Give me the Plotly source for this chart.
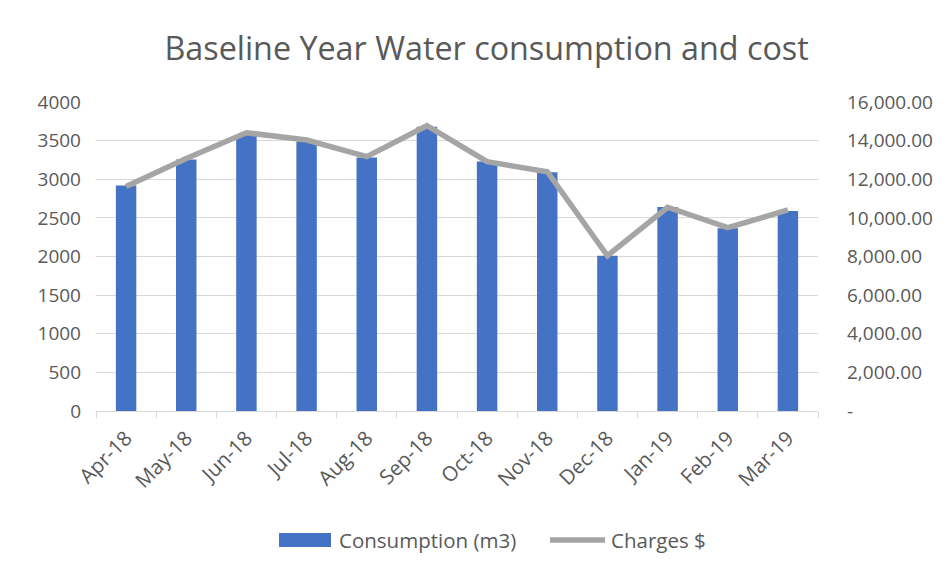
import plotly.graph_objects as go

months = ["Apr-18", "May-18", "Jun-18", "Jul-18", "Aug-18", "Sep-18",
          "Oct-18", "Nov-18", "Dec-18", "Jan-19", "Feb-19", "Mar-19"]
consumption = [2920, 3255, 3575, 3490, 3280, 3680, 3230, 3090, 2010, 2640, 2365, 2590]
charges = [11620, 13080, 14410, 14030, 13170, 14770, 12910, 12390, 8040, 10550, 9490, 10410]

left_ticks = [0, 500, 1000, 1500, 2000, 2500, 3000, 3500, 4000]
right_ticks = [0, 2000, 4000, 6000, 8000, 10000, 12000, 14000, 16000]
right_text = ["-", "2,000.00", "4,000.00", "6,000.00", "8,000.00",
              "10,000.00", "12,000.00", "14,000.00", "16,000.00"]

FONT = "Open Sans"
GREY = "#595959"
BLUE = "#4472c4"
LINEGREY = "#a5a5a5"

fig = go.Figure()
fig.add_trace(go.Bar(x=months, y=consumption, name="Consumption (m3)",
                     marker=dict(color=BLUE, line=dict(width=0)), yaxis="y",
                     showlegend=False))
fig.add_trace(go.Scatter(x=months, y=charges, name="Charges $", mode="lines",
                         line=dict(color=LINEGREY, width=5.5), yaxis="y2",
                         showlegend=False))

# custom legend (swatches in paper coordinates)
fig.add_shape(type="rect", xref="paper", yref="paper", x0=0.2535, x1=0.3255,
              y0=-0.4401, y1=-0.3948, fillcolor=BLUE, line=dict(width=0))
fig.add_shape(type="line", xref="paper", yref="paper", x0=0.6288, x1=0.7050,
              y0=-0.4175, y1=-0.4175, line=dict(color=LINEGREY, width=5.5))
fig.add_annotation(text="Consumption (m3)", xref="paper", yref="paper", x=0.3338,
                   y=-0.4175, xanchor="left", yanchor="middle", showarrow=False,
                   font=dict(size=20.5, color=GREY, family=FONT))
fig.add_annotation(text="Charges $", xref="paper", yref="paper", x=0.7105,
                   y=-0.4175, xanchor="left", yanchor="middle", showarrow=False,
                   font=dict(size=20.5, color=GREY, family=FONT))

fig.update_layout(
    width=944, height=567,
    margin=dict(l=88, r=134, t=94, b=164, autoexpand=False),
    paper_bgcolor="white", plot_bgcolor="white",
    font=dict(family=FONT, color=GREY, size=19),
    title=dict(text="Baseline Year Water consumption and cost", x=0.507, xanchor="center",
               y=0.929, yanchor="middle", font=dict(size=32.3, color=GREY, family=FONT)),
    bargap=0.66,
    showlegend=False,
    xaxis=dict(type="category", tickangle=-45, showgrid=False, showline=True,
               linecolor="#d9d9d9", linewidth=1, ticks="outside", tickson="boundaries",
               tickcolor="#d9d9d9", ticklen=6, tickfont=dict(size=20.5, color=GREY),
               ticklabelstandoff=6, automargin=False),
    yaxis=dict(range=[0, 4000], tickvals=left_ticks, showgrid=True, gridcolor="#d9d9d9",
               gridwidth=1.3, zeroline=False, showline=False, ticks="", ticklabelstandoff=14,
               tickfont=dict(size=19, color=GREY), automargin=False),
    yaxis2=dict(range=[0, 16000], tickvals=right_ticks, ticktext=right_text, overlaying="y",
                side="right", showgrid=False, zeroline=False, showline=False, ticks="",
                ticklabelstandoff=28, tickfont=dict(size=19, color=GREY), automargin=False),
)

fig.write_html("out.html")
